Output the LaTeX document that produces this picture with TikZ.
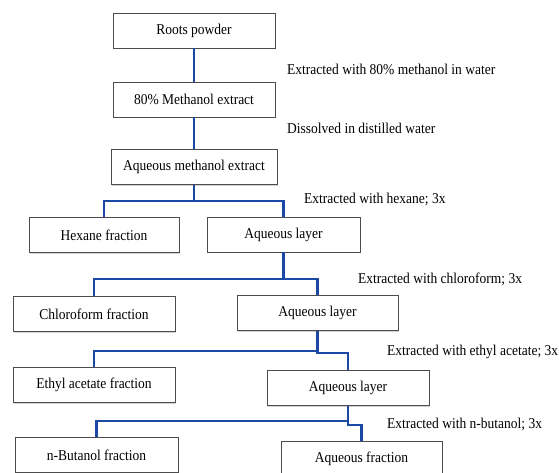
\documentclass[tikz,border=0pt]{standalone}
\usepackage{fontspec}
\setmainfont{Liberation Serif}[FakeStretch=0.9]
\usetikzlibrary{shadows}
\definecolor{linkblue}{RGB}{28,72,165}
\tikzset{
  box/.style={draw=black!70, fill=white, inner sep=0pt, minimum height=35pt,
    drop shadow={shadow xshift=1.2pt, shadow yshift=-1.2pt, opacity=0.35}},
  link/.style={draw=linkblue, line width=2.2pt},
  note/.style={anchor=west, inner sep=0pt}
}
\begin{document}
\begin{tikzpicture}[x=1pt, y=1pt, font=\fontsize{15}{17}\selectfont]

    % Canvas of the picture
    \useasboundingbox (0,0) rectangle (559,472);

    % Main column
    \node[box, minimum width=162pt] (roots) at (194,441.5) {Roots powder};
    \node[box, minimum width=162pt] (meoh) at (194,372.5) {80\% Methanol extract};
    \node[box, minimum width=166pt] (aqmeoh) at (194,305) {Aqueous methanol extract};

    % Fractions (left) and aqueous layers (right)
    \node[box, minimum width=150pt] (hexane) at (104,237) {Hexane  fraction};
    \node[box, minimum width=153pt] (aqone) at (283.5,237.5) {Aqueous layer};
    \node[box, minimum width=162pt] (chloro) at (94,158) {Chloroform fraction};
    \node[box, minimum width=161pt] (aqtwo) at (317.5,159) {Aqueous layer};
    \node[box, minimum width=162pt] (ethyl) at (94,87) {Ethyl acetate  fraction};
    \node[box, minimum width=162pt] (aqthree) at (348,84) {Aqueous layer};
    \node[box, minimum width=163pt] (butanol) at (96.5,17) {n-Butanol fraction};
    \node[box, minimum width=161pt] (aqfrac) at (361.5,13) {Aqueous fraction};

    % Branch points
    \coordinate (bhex) at (194,271);
    \coordinate (bchl) at (283.5,193);
    \coordinate (beth) at (317.5,121);
    \coordinate (bbut) at (348,51);

    % Connectors
    \draw[link] (roots) -- (meoh);
    \draw[link] (meoh) -- (aqmeoh);
    \draw[link] (aqmeoh) -- (bhex) -| (hexane);
    \draw[link] (bhex) -| (aqone);
    \draw[link] (aqone) -- (bchl) -| (chloro);
    \draw[link] (bchl) -| (aqtwo);
    \draw[link] (aqtwo) -- (beth) -| (ethyl);
    \draw[link] (beth) -- ++(0,-2) -| (aqthree);
    \draw[link] (aqthree) -- (bbut) -| (butanol);
    \draw[link] (bbut) -- ++(0,-4) -| (aqfrac);

    % Steps
    \node[note] (s1) at (287,403) {Extracted with 80\% methanol in water};
    \node[note] (s2) at (287,344) {Dissolved in distilled water};
    \node[note] (s3) at (304,273) {Extracted with hexane; 3x};
    \node[note] (s4) at (358,193) {Extracted with chloroform; 3x};
    \node[note] (s5) at (387,120) {Extracted with ethyl acetate; 3x};
    \node[note] (s6) at (387,48) {Extracted with n-butanol; 3x};
\end{tikzpicture}
\end{document}
